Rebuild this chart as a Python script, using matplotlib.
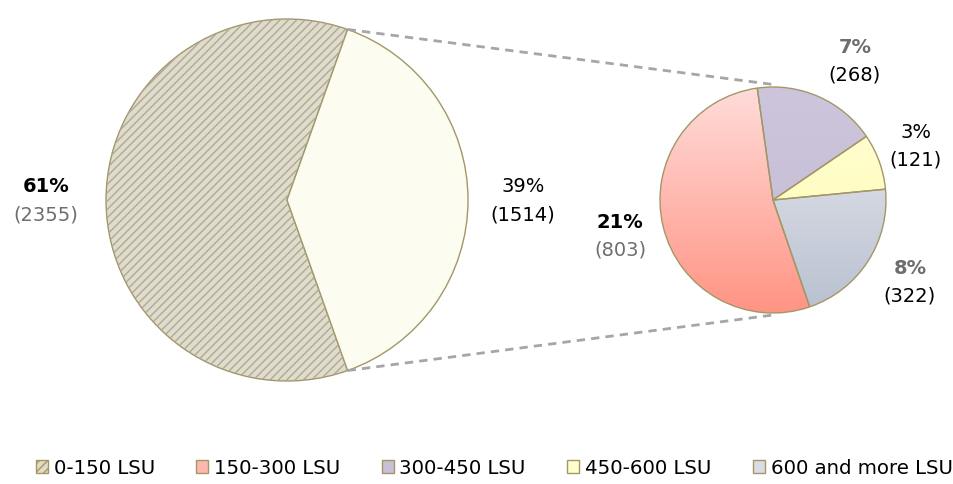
import matplotlib.pyplot as plt
import numpy as np
from matplotlib.patches import Patch, Wedge
from matplotlib.colors import LinearSegmentedColormap

# main pie: 0-150 LSU vs the rest
main_values = [2355, 1514]
main_pcts = ["61%", "39%"]

# breakdown of the larger farms (ccw order from the top)
sub_labels = ["150-300 LSU", "600 and more LSU", "450-600 LSU", "300-450 LSU"]
sub_values = [803, 322, 121, 268]
sub_pcts = ["21%", "8%", "3%", "7%"]

legend_labels = ["0-150 LSU", "150-300 LSU", "300-450 LSU", "450-600 LSU", "600 and more LSU"]

edge = "#a39767"
hatch_base = "#e2dcc6"
# top / bottom colours of the gradients
sub_grad = {
    "150-300 LSU": ("#ffdcda", "#ff9484"),
    "600 and more LSU": ("#ececf0", "#b8c0d0"),
    "450-600 LSU": ("#ffffd6", "#fffab0"),
    "300-450 LSU": ("#cdc5dc", "#c4bcd4"),
}

plt.rcParams["font.family"] = "DejaVu Sans"
plt.rcParams["hatch.linewidth"] = 1.0

W, H = 954, 484
fig = plt.figure(figsize=(W / 100, H / 100), dpi=100)
ax = fig.add_axes([0, 0, 1, 1])

# --- left pie ---
c1, r1 = (287, 284), 181
start1 = 360 * main_values[1] / sum(main_values) / 2
wedges1, _ = ax.pie(main_values, center=c1, radius=r1, startangle=start1,
                    colors=[hatch_base, "#fdfcf1"], frame=True,
                    wedgeprops=dict(edgecolor=edge, linewidth=1))
w0 = wedges1[0]
ax.add_patch(Wedge(c1, r1, w0.theta1, w0.theta2, facecolor="none",
                   edgecolor="#a8a8a8", hatch="////", linewidth=0))

# --- right pie with gradients ---
c2, r2 = (773, 284), 113
wedges2, _ = ax.pie(sub_values, center=c2, radius=r2, startangle=98,
                    colors=["white"] * 4, frame=True,
                    wedgeprops=dict(edgecolor=edge, linewidth=1, zorder=3))
grad = np.linspace(0, 1, 256).reshape(-1, 1)
for w, lab in zip(wedges2, sub_labels):
    top, bot = sub_grad[lab]
    cmap = LinearSegmentedColormap.from_list(lab, [top, bot])
    im = ax.imshow(grad, cmap=cmap, aspect="auto", origin="upper",
                   extent=[c2[0] - r2, c2[0] + r2, c2[1] - r2, c2[1] + r2], zorder=2)
    im.set_clip_path(w)
    w.set_facecolor("none")

ax.set_xlim(0, W)
ax.set_ylim(0, H)
ax.set_aspect("equal")
ax.axis("off")

# dashed connectors
th = np.deg2rad(w0.theta1)
p_top = (c1[0] + r1 * np.cos(th), c1[1] + r1 * np.sin(th))
p_bot = (c1[0] + r1 * np.cos(th), c1[1] - r1 * np.sin(th))
ax.plot([p_top[0], c2[0] + 4], [p_top[1], c2[1] + r2 + 2], ls=(0, (3, 2.2)), color="#a6a6a6", lw=2, zorder=1)
ax.plot([p_bot[0], c2[0]], [p_bot[1], c2[1] - r2 - 2], ls=(0, (3, 2.2)), color="#a6a6a6", lw=2, zorder=1)

# labels
gray = "#6e6e6e"
fs = 14
def lab(x, y, pct, val, pcolor, pbold, vcolor):
    ax.text(x, H - y, pct, ha="center", va="center", fontsize=fs,
            color=pcolor, fontweight="bold" if pbold else "normal")
    ax.text(x, H - y - 28, "(%d)" % val, ha="center", va="center", fontsize=fs, color=vcolor)

lab(46, 187, main_pcts[0], main_values[0], "black", True, gray)
lab(523, 187, main_pcts[1], main_values[1], "black", False, "black")
lab(620, 222, sub_pcts[0], sub_values[0], "black", True, gray)
lab(855, 47, sub_pcts[3], sub_values[3], gray, True, "black")
lab(916, 132, sub_pcts[2], sub_values[2], "black", False, "black")
lab(910, 268, sub_pcts[1], sub_values[1], gray, True, "black")

# legend
handles = [
    Patch(facecolor=hatch_base, edgecolor=edge, hatch="////"),
    Patch(facecolor="#ffb8b0", edgecolor=edge),
    Patch(facecolor="#c8c0d8", edgecolor=edge),
    Patch(facecolor="#ffffcc", edgecolor=edge),
    Patch(facecolor="#d8dce6", edgecolor=edge),
]
fig.legend(handles, legend_labels, loc="center", bbox_to_anchor=(0.518, 1 - 468 / H),
           ncol=5, frameon=False, fontsize=14.2, handlelength=0.6, handleheight=0.6,
           handletextpad=0.3, columnspacing=2.1, borderpad=0)

fig.savefig("out.png", dpi=100)
